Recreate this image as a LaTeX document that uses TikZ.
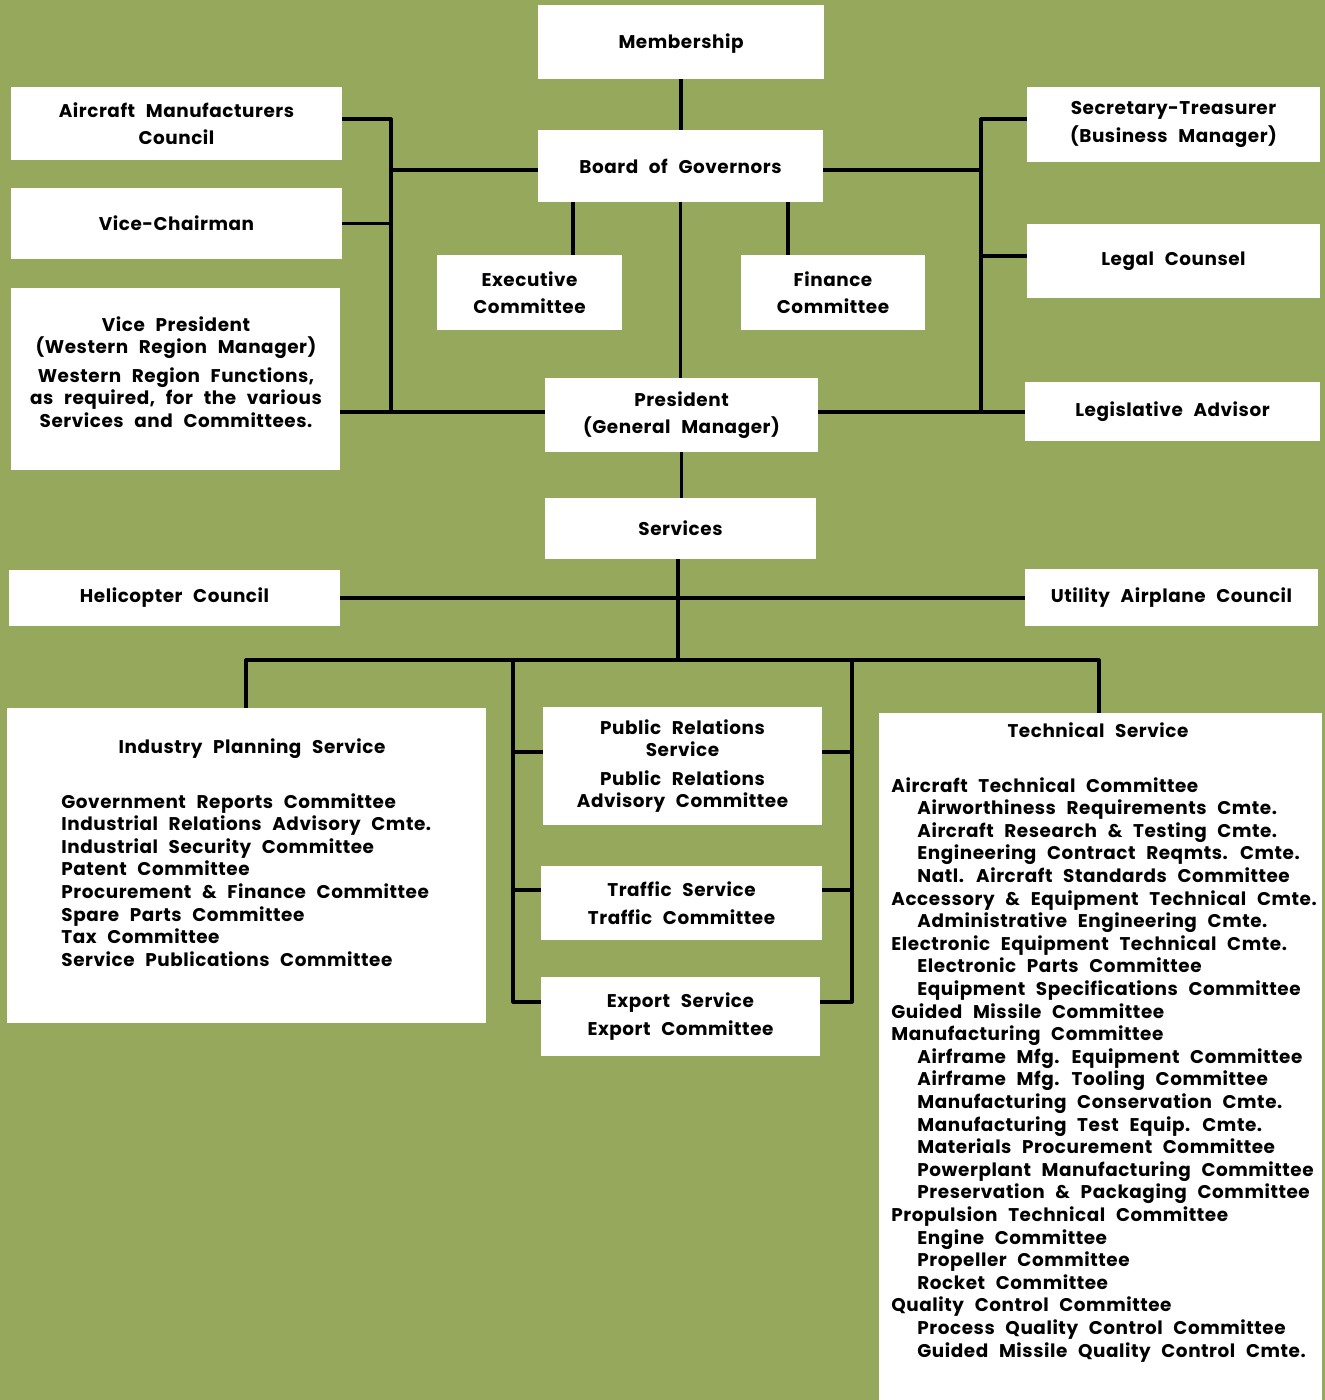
\documentclass[tikz,border=0pt]{standalone}
\usepackage{fontspec}
\setmainfont{Poppins}[LetterSpace=3,WordSpace=2.4]
\definecolor{bgc}{RGB}{149,168,92}
\tikzset{
  x=0.5pt, y=-0.5pt,
  box/.style={fill=white, inner sep=0pt, align=center, font=\fnt},
  txt/.style={inner sep=0pt, align=center, font=\fnt},
  lst/.style={inner sep=0pt, align=left, anchor=north west, font=\lfnt},
  ln/.style={line width=1.6pt, black, line join=round}
}
\newcommand\fnt{\fontsize{9.2}{11.2}\selectfont\bfseries}
\newcommand\lfnt{\fontsize{9.2}{11.3}\selectfont\bfseries}
\newcommand\sub{\hspace*{13pt}}
\begin{document}
\begin{tikzpicture}
\fill[bgc] (0,0) rectangle (1325,1400);
\useasboundingbox (0,0) rectangle (1325,1400);
% boxes
\node[box, minimum width=143pt, minimum height=37pt] (mem) at (681,42) {};
\node[txt] (memt) at (681,44) {Membership};
\node[box, minimum width=142.5pt, minimum height=36pt] (bog) at (680.5,166) {Board of Governors};
\node[box, minimum width=165.5pt, minimum height=36.5pt] (amc) at (176.5,123.5) {Aircraft Manufacturers\\[2.5pt]Council};
\node[box, minimum width=165.5pt, minimum height=35.5pt] (vc) at (176.5,223.5) {Vice-Chairman};
\node[box, minimum width=164.5pt, minimum height=91pt] (vp) at (175.5,379) {};
\node[txt] (vpt) at (176,372) {Vice President\\(Western Region Manager)\\[3pt]Western Region Functions,\\as required, for the various\\Services and Committees.};
\node[box, minimum width=146.5pt, minimum height=37.5pt] (sec) at (1173.5,124.5) {Secretary-Treasurer\\[2.5pt](Business Manager)};
\node[box, minimum width=146.5pt, minimum height=37pt] (legal) at (1173.5,261) {Legal Counsel};
\node[box, minimum width=147.5pt, minimum height=29.5pt] (legis) at (1172.5,411.5) {Legislative Advisor};
\node[box, minimum width=92.5pt, minimum height=37.5pt] (exec) at (529.5,292.5) {Executive\\[2.5pt]Committee};
\node[box, minimum width=92pt, minimum height=37.5pt] (fin) at (833,292.5) {Finance\\[2.5pt]Committee};
\node[box, minimum width=136.5pt, minimum height=37pt] (pres) at (681.5,415) {President\\[2.5pt](General Manager)};
\node[box, minimum width=135.5pt, minimum height=30.5pt] (serv) at (680.5,528.5) {Services};
\node[box, minimum width=165.5pt, minimum height=28pt] (heli) at (174.5,598) {Helicopter Council};
\node[box, minimum width=146.5pt, minimum height=28.5pt] (util) at (1171.5,597.5) {Utility Airplane Council};
\node[box, minimum width=239.5pt, minimum height=157.5pt] (ips) at (246.5,865.5) {};
\node[box, minimum width=139.5pt, minimum height=59pt] (pr) at (682.5,766) {Public Relations\\Service\\[3pt]Public Relations\\Advisory Committee};
\node[box, minimum width=140.5pt, minimum height=37pt] (traf) at (681.5,903) {Traffic Service\\[2.5pt]Traffic Committee};
\node[box, minimum width=139.5pt, minimum height=39.5pt] (exp) at (680.5,1016.5) {Export Service\\[3pt]Export Committee};
\node[box, minimum width=221.5pt, minimum height=346pt] (tech) at (1100.5,1059) {};
% texts of the big boxes
\node[txt] (ipst) at (252,749) {Industry Planning Service};
\node[lst] (ipsl) at (61,793) {Government Reports Committee\\Industrial Relations Advisory Cmte.\\Industrial Security Committee\\Patent Committee\\Procurement \& Finance Committee\\Spare Parts Committee\\Tax Committee\\Service Publications Committee};
\node[txt] (techt) at (1098,730) {Technical Service};
\node[lst] (techl) at (891,777) {Aircraft Technical Committee\\
\sub Airworthiness Requirements Cmte.\\
\sub Aircraft Research \& Testing Cmte.\\
\sub Engineering Contract Reqmts. Cmte.\\
\sub Natl. Aircraft Standards Committee\\
Accessory \& Equipment Technical Cmte.\\
\sub Administrative Engineering Cmte.\\
Electronic Equipment Technical Cmte.\\
\sub Electronic Parts Committee\\
\sub Equipment Specifications Committee\\
Guided Missile Committee\\
Manufacturing Committee\\
\sub Airframe Mfg. Equipment Committee\\
\sub Airframe Mfg. Tooling Committee\\
\sub Manufacturing Conservation Cmte.\\
\sub Manufacturing Test Equip. Cmte.\\
\sub Materials Procurement Committee\\
\sub Powerplant Manufacturing Committee\\
\sub Preservation \& Packaging Committee\\
Propulsion Technical Committee\\
\sub Engine Committee\\
\sub Propeller Committee\\
\sub Rocket Committee\\
Quality Control Committee\\
\sub Process Quality Control Committee\\
\sub Guided Missile Quality Control Cmte.};
% bus coordinates
\coordinate (lbt) at (391,119);
\coordinate (lbm) at (391,170);
\coordinate (lbb) at (391,412);
\coordinate (rbt) at (981,119);
\coordinate (rbm) at (981,170);
\coordinate (rbl) at (981,256);
\coordinate (rbb) at (981,412);
\coordinate (exl) at (573,0);
\coordinate (fnl) at (788,0);
\coordinate (hb) at (678,660);
\coordinate (hbl) at (246,660);
\coordinate (hbr) at (1099,660);
\coordinate (ml) at (513,660);
\coordinate (mlp) at (513,752);
\coordinate (mlt) at (513,890);
\coordinate (mlb) at (513,1002);
\coordinate (mr) at (852,660);
\coordinate (mrp) at (852,752);
\coordinate (mrt) at (852,890);
\coordinate (mrb) at (852,1002);
% connectors
\draw[ln] (mem.south) -- (mem.south |- bog.north);
\draw[ln] (amc.east |- lbt) -- (lbt) -- (lbb) -- (pres.west |- lbb);
\draw[ln] (vc.east) -- (vc.east -| lbt);
\draw[ln] (vp.east |- lbb) -- (lbb);
\draw[ln] (lbm) -- (bog.west |- lbm);
\draw[ln] (sec.west |- rbt) -- (rbt) -- (rbb) -- (legis.west |- rbb);
\draw[ln] (bog.east |- rbm) -- (rbm);
\draw[ln] (rbl) -- (legal.west |- rbl);
\draw[ln] (pres.east |- rbb) -- (rbb);
\draw[ln] (bog.south -| exl) -- (exec.north -| exl);
\draw[ln] (bog.south -| fnl) -- (fin.north -| fnl);
\draw[ln] (bog.south) -- (bog.south |- pres.north);
\draw[ln] (pres.south) -- (pres.south |- serv.north);
\draw[ln] (heli.east) -- (heli.east -| util.west);
\draw[ln] (serv.south -| hb) -- (hb);
\draw[ln] (ips.north -| hbl) -- (hbl) -- (hbr) -- (tech.north -| hbr);
\draw[ln] (ml) -- (mlb) -- (exp.west |- mlb);
\draw[ln] (mlp) -- (pr.west |- mlp);
\draw[ln] (mlt) -- (traf.west |- mlt);
\draw[ln] (mr) -- (mrb) -- (exp.east |- mrb);
\draw[ln] (mrp) -- (pr.east |- mrp);
\draw[ln] (mrt) -- (traf.east |- mrt);
\end{tikzpicture}
\end{document}
